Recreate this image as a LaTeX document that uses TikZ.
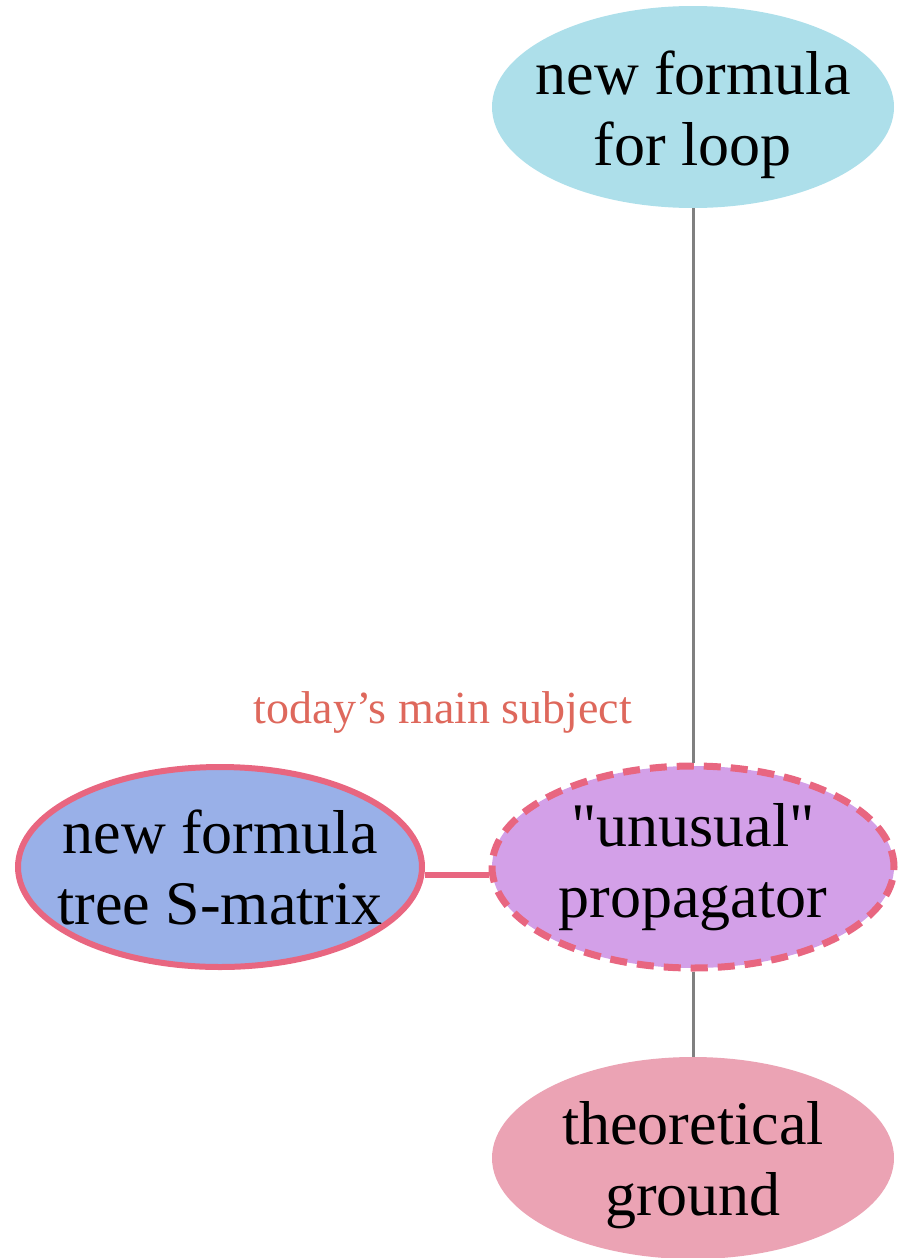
\documentclass[tikz,border=0pt]{standalone}
\usepackage{fontspec}
\setmainfont{Liberation Serif}
% same face without the TeX input mapping, so " stays a straight quote
\newfontfamily\straightq{Liberation Serif}
\usetikzlibrary{shapes.geometric}
\definecolor{loopfill}{RGB}{173,223,234}
\definecolor{treefill}{RGB}{153,176,232}
\definecolor{propfill}{RGB}{211,160,232}
\definecolor{groundfill}{RGB}{235,163,180}
\definecolor{accent}{RGB}{232,102,128}
\definecolor{notecol}{RGB}{222,104,92}
\tikzset{
  blob/.style={ellipse, minimum width=402pt, minimum height=202pt, inner sep=0pt},
  bigtext/.style={font=\fontsize{62}{71}\selectfont, align=center, inner sep=0pt},
  plainlink/.style={draw=gray, line width=3pt},
  mainlink/.style={draw=accent, line width=6pt},
}
\begin{document}
\begin{tikzpicture}[x=1pt, y=-1pt]
  \useasboundingbox (0,0) rectangle (905,1258);

  % ellipses
  \node[blob, fill=loopfill] (loop) at (693,107) {};
  \node[blob, fill=propfill, draw=accent, line width=7pt, dash pattern=on 17pt off 10pt] (prop) at (693,867) {};
  \node[blob, fill=treefill, draw=accent, line width=6pt, minimum width=404pt, minimum height=200pt] (tree) at (220,867) {};
  \node[blob, fill=groundfill] (ground) at (693,1158) {};

  % connectors
  \draw[plainlink] (loop.south) -- (prop.north);
  \draw[plainlink] (prop.south) -- (ground.north);
  \draw[mainlink] ([yshift=-8pt]tree.east) -- ([yshift=-8pt]prop.west);

  % labels
  \node[bigtext] (looptext) at ([yshift=-8pt]loop.center) {new formula\\for loop};
  \node[bigtext] (proptext) at (prop) {{\straightq"}unusual{\straightq"}\\propagator};
  \node[bigtext] (treetext) at (tree) {new formula\\tree S-matrix};
  \node[bigtext] (groundtext) at ([yshift=-7pt]ground.center) {theoretical\\ground};
  \node[font=\fontsize{46}{52}\selectfont, text=notecol, inner sep=0pt] (note) at (443,712) {today's main subject};
\end{tikzpicture}
\end{document}
